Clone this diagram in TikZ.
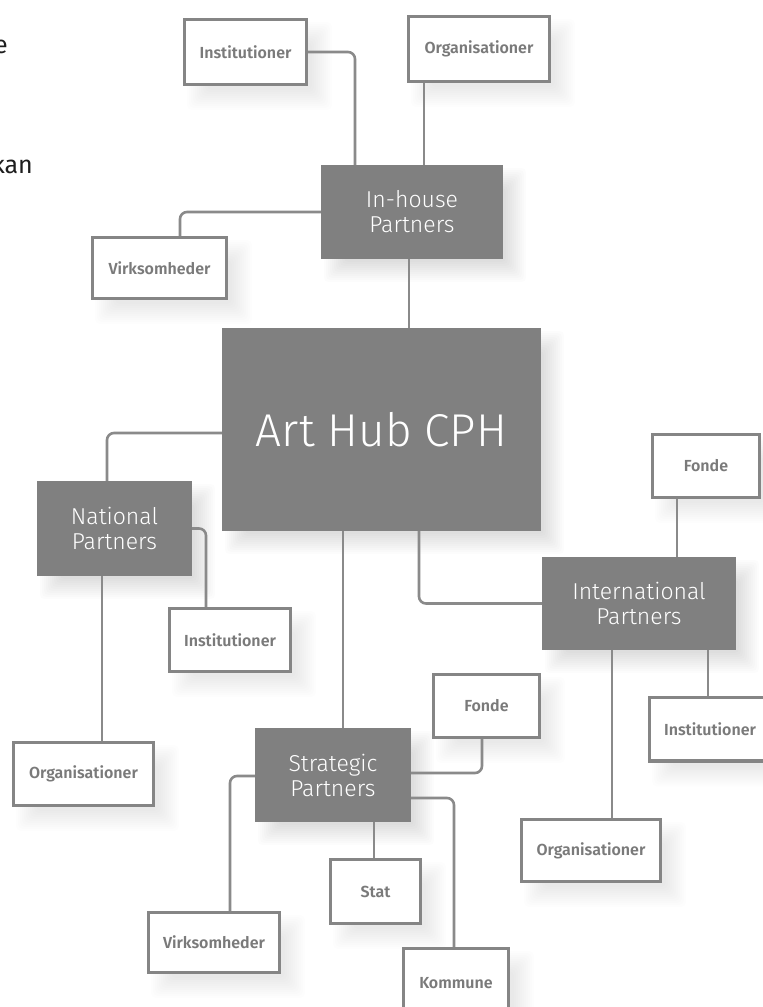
\documentclass[tikz,border=0pt]{standalone}
\usepackage{fontspec}
\setmainfont{Fira Sans}
\newfontfamily\lightf{Fira Sans Light}
\newfontfamily\semif{Fira Sans SemiBold}
\usetikzlibrary{calc}
\definecolor{boxfill}{HTML}{808080}
\definecolor{bord}{HTML}{858585}
\definecolor{linec}{HTML}{8A8A8A}
\definecolor{stxt}{HTML}{7A7A7A}
\definecolor{inl}{HTML}{D6D6D6}
\definecolor{ink}{HTML}{1E1E1E}
\pgfdeclarelayer{shadowlayer}
\pgfsetlayers{shadowlayer,main}
\begin{document}
\begin{tikzpicture}[x=1pt,y=-1pt,
  mainbox/.style={fill=boxfill, text=white, inner sep=0pt, align=center,
    font=\lightf\fontsize{23}{25}\selectfont},
  sbox/.style={draw=bord, line width=3.4pt, fill=white, text=stxt, inner sep=0pt,
    font=\semif\fontsize{16}{18}\selectfont,
    append after command={[draw=inl, line width=0.8pt]
      ($(\tikzlastnode.north west)+(3.8pt,-3.8pt)$) rectangle ($(\tikzlastnode.south east)+(-3.8pt,3.8pt)$)}},
  conn/.style={draw=linec, line width=2.6pt, rounded corners=7pt},
  sidetext/.style={text=ink, inner sep=0pt, font=\fontsize{25}{30}\selectfont},
  shadowlayer/.style={fill=black, rounded corners=5pt}
]
\useasboundingbox (0,0) rectangle (763,1007);

% side texts (cut off at the left edge)
\node[sidetext, anchor=base east] (t1) at (8,53) {e};
\node[sidetext, anchor=base east] (t2) at (33,173) {kan};

% main boxes
\node[mainbox, minimum width=182pt, minimum height=94pt] (inh) at (412,212) {In-house\\Partners};
\node[mainbox, minimum width=319pt, minimum height=203pt, font=\lightf\fontsize{46}{50}\selectfont] (hub) at (381.5,429.5) {Art Hub CPH};
\node[mainbox, minimum width=155pt, minimum height=95pt] (nat) at (114.5,528.5) {National\\Partners};
\node[mainbox, minimum width=194pt, minimum height=93pt] (intl) at (639,603.5) {International\\Partners};
\node[mainbox, minimum width=156pt, minimum height=94pt] (str) at (333,775) {Strategic\\Partners};

% small boxes (outer size minus line width)
\node[sbox, minimum width=121.6pt, minimum height=64.6pt] (i1) at (245.5,52) {Institutioner};
\node[sbox, minimum width=140.6pt, minimum height=64.6pt] (o1) at (479,49) {Organisationer};
\node[sbox, minimum width=133.6pt, minimum height=60.6pt] (v1) at (159.5,268) {Virksomheder};
\node[sbox, minimum width=120.6pt, minimum height=62.6pt] (i2) at (230,640) {Institutioner};
\node[sbox, minimum width=139.6pt, minimum height=62.6pt] (o2) at (83.5,774) {Organisationer};
\node[sbox, minimum width=105.6pt, minimum height=62.6pt] (f2) at (486.5,706) {Fonde};
\node[sbox, minimum width=130.6pt, minimum height=59.6pt] (v2) at (214,942.5) {Virksomheder};
\node[sbox, minimum width=89.6pt, minimum height=63.6pt] (stat) at (375.5,891.5) {Stat};
\node[sbox, minimum width=104.6pt, minimum height=68.6pt] (kom) at (456,983) {Kommune};
\node[sbox, minimum width=106.6pt, minimum height=62.6pt] (f1) at (706,466) {Fonde};
\node[sbox, minimum width=120.6pt, minimum height=63.6pt] (i3) at (710,729) {Institutioner};
\node[sbox, minimum width=138.6pt, minimum height=61.6pt] (o3) at (591,850.5) {Organisationer};

% white page and soft drop shadows underneath everything
\begin{pgfonlayer}{shadowlayer}
\fill[white] (0,0) rectangle (763,1007);
\foreach \n in {inh,hub,nat,intl,str}{
  \foreach \k in {0,...,10}{
    \pgfmathsetmacro\ta{13-(2*\k-10)}
    \pgfmathsetmacro\tb{13+(2*\k-10)}
    \fill[shadowlayer, opacity=0.013] ($(\n.north west)+(\ta,\ta)$) rectangle ($(\n.south east)+(\tb,\tb)$);
  }
}
\foreach \n in {i1,o1,v1,i2,o2,f2,v2,stat,kom,f1,i3,o3}{
  \foreach \k in {0,...,10}{
    \pgfmathsetmacro\ta{14-(2*\k-10)}
    \pgfmathsetmacro\tb{14+(2*\k-10)}
    \fill[shadowlayer, opacity=0.008] ($(\n.north west)+(\ta,\ta)$) rectangle ($(\n.south east)+(\tb,\tb)$);
  }
}
\end{pgfonlayer}

% connectors
\draw[conn] (i1.east) -| ([xshift=-57pt]inh.north);
\draw[conn] ([xshift=-55pt]o1.south) -- ([xshift=-55pt]o1.south |- inh.north);
\draw[conn] (inh.west) -| ([xshift=20.5pt]v1.north);
\draw[conn] ([xshift=-3pt]inh.south) -- ([xshift=-3pt]inh.south |- hub.north);
\draw[conn] ([yshift=-3.5pt]hub.west) -| ([xshift=-7.5pt]nat.north);
\draw[conn] (nat.east) -| ([xshift=-24pt]i2.north);
\draw[conn] ([xshift=-12.5pt]nat.south) -- ([xshift=-12.5pt]nat.south |- o2.north);
\draw[conn] ([xshift=-38.5pt]hub.south) -- ([xshift=-38.5pt]hub.south |- str.north);
\draw[conn] ([xshift=37.5pt]hub.south) |- (intl.west);
\draw[conn] ([xshift=-29pt]f1.south) -- ([xshift=-29pt]f1.south |- intl.north);
\draw[conn] ([xshift=69pt]intl.south) -- ([xshift=69pt]intl.south |- i3.north);
\draw[conn] ([xshift=-27pt]intl.south) -- ([xshift=-27pt]intl.south |- o3.north);
\draw[conn] ([xshift=-4.5pt]f2.south) |- ([yshift=2pt]str.east);
\draw[conn] ([yshift=-23pt]str.east) -| ([xshift=-2pt]kom.north);
\draw[conn] ([yshift=-1pt]str.west) -| ([xshift=16pt]v2.north);
\draw[conn] ([xshift=41pt]str.south) -- ([xshift=41pt]str.south |- stat.north);
\end{tikzpicture}
\end{document}
